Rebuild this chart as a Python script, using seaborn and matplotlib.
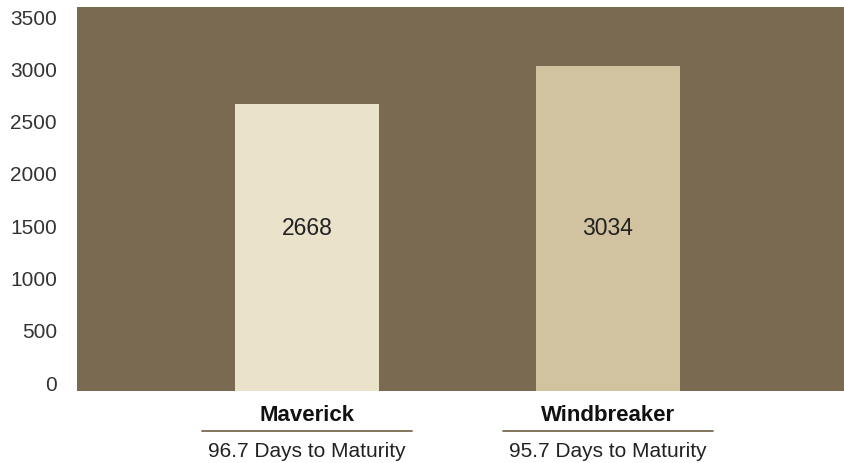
import matplotlib
matplotlib.use("Agg")
import matplotlib.pyplot as plt
import matplotlib.transforms as mtransforms
import seaborn as sns
import pandas as pd

# Yield by variety
varieties = ["Maverick", "Windbreaker"]
yields = [2668, 3034]
maturity_labels = ["96.7 Days to Maturity", "95.7 Days to Maturity"]
y_ticks = [0, 500, 1000, 1500, 2000, 2500, 3000, 3500]

bar_colors = ["#EAE2CA", "#D2C3A0"]
panel_color = "#7B6A52"
text_color = "#222222"

sns.set_theme(style="white")
plt.rcParams["font.family"] = ["Liberation Sans", "DejaVu Sans"]

df = pd.DataFrame({"variety": varieties, "yield": yields})

fig = plt.figure(figsize=(8.44, 4.63), dpi=100)
ax = fig.add_axes([77 / 844, 1 - 391 / 463, 1 - 77 / 844, 384 / 463])
ax.set_facecolor(panel_color)

sns.barplot(data=df, x="variety", y="yield", hue="variety",
            palette=bar_colors, legend=False, width=0.478,
            saturation=1, ax=ax, edgecolor="none", linewidth=0)

y_min, y_max = -76, 3596
ax.set_ylim(y_min, y_max)
ax.set_xlim(-0.764, 1.784)

# bars run from the panel floor up to their value
for patch, val in zip(ax.patches, yields):
    patch.set_y(y_min)
    patch.set_height(val - y_min)

for spine in ax.spines.values():
    spine.set_visible(False)

ax.set_yticks(y_ticks)
ax.set_yticklabels([str(t) for t in y_ticks])
ax.tick_params(axis="y", length=0, pad=14.4, labelsize=15, labelcolor="#333333")
ax.set_xticks([])
ax.set_xlabel("")
ax.set_ylabel("")

trans = mtransforms.blended_transform_factory(ax.transData, ax.transAxes)
for i, (name, val, sub) in enumerate(zip(varieties, yields, maturity_labels)):
    ax.text(i, 0.422, f"{val}", transform=trans, ha="center", va="center",
            fontsize=16.5, color=text_color)
    ax.text(i, -0.063, name, transform=trans, ha="center", va="center",
            fontsize=16, fontweight="bold", color="#111111")
    ax.plot([i - 0.35, i + 0.35], [-0.104, -0.104], transform=trans,
            color=panel_color, linewidth=1.3, clip_on=False)
    ax.text(i, -0.157, sub, transform=trans, ha="center", va="center",
            fontsize=15, color=text_color)

fig.savefig("out.png", dpi=100)
